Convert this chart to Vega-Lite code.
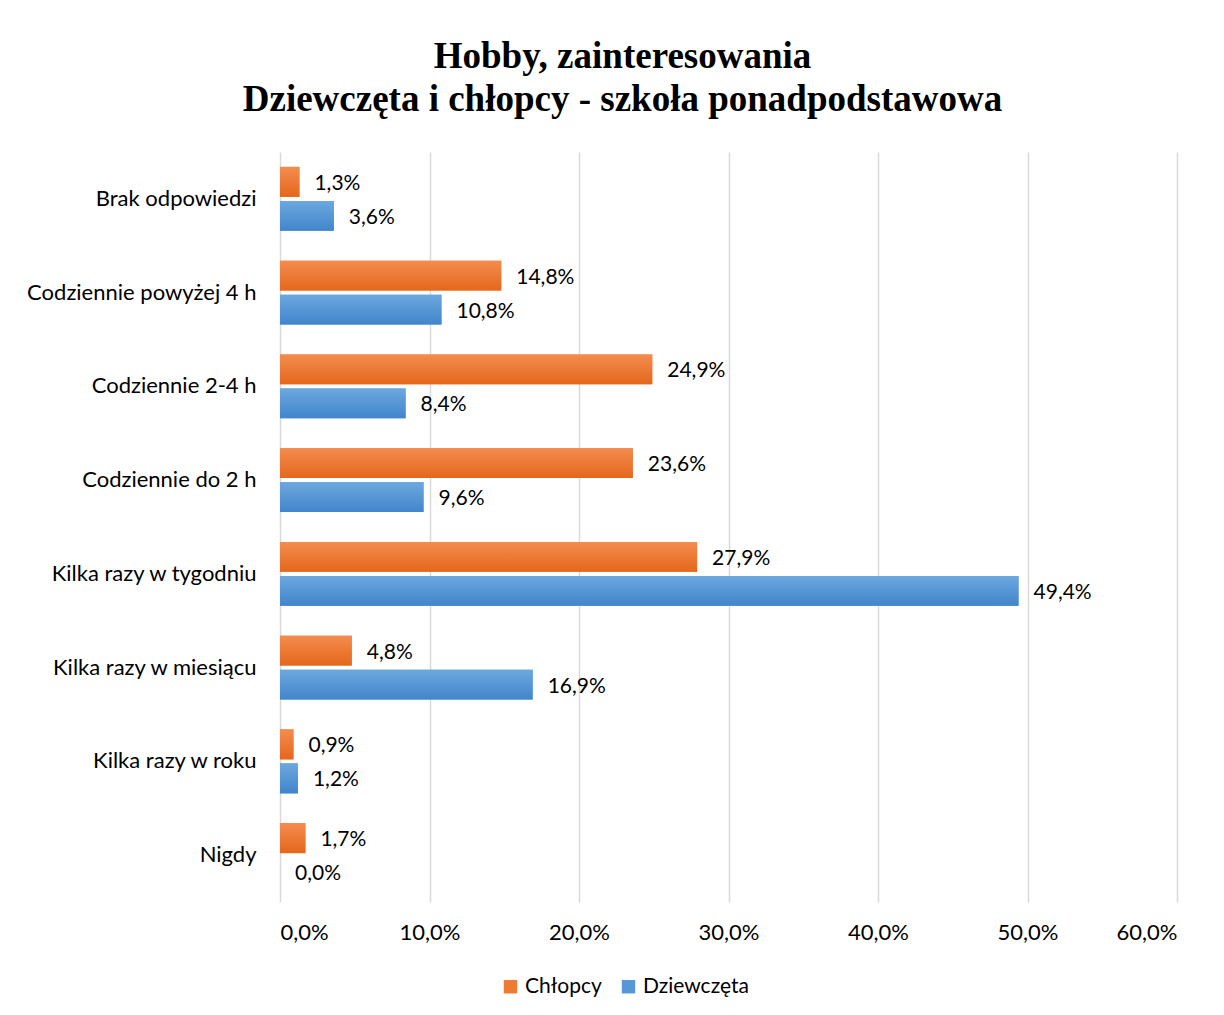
{
  "$schema": "https://vega.github.io/schema/vega-lite/v6.json",
  "width": 897,
  "height": 750,
  "autosize": {"type": "none"},
  "padding": {"left": 280, "top": 152, "right": 47, "bottom": 113},
  "background": "white",
  "config": {
    "locale": {"number": {"decimal": ",", "thousands": " ", "grouping": [3], "currency": ["", " zł"]}},
    "view": {"stroke": null},
    "font": "Lato"
  },
  "title": {
    "text": ["Hobby, zainteresowania", "Dziewczęta i chłopcy - szkoła ponadpodstawowa"],
    "font": "Liberation Serif",
    "fontSize": 37,
    "fontWeight": "bold",
    "color": "#000000",
    "lineHeight": 43,
    "anchor": "middle",
    "dx": -106,
    "offset": 33
  },
  "data": {
    "values": [
      {"kategoria": "Brak odpowiedzi", "grupa": "Chłopcy", "wartosc": 0.013},
      {"kategoria": "Brak odpowiedzi", "grupa": "Dziewczęta", "wartosc": 0.036},
      {"kategoria": "Codziennie powyżej 4 h", "grupa": "Chłopcy", "wartosc": 0.148},
      {"kategoria": "Codziennie powyżej 4 h", "grupa": "Dziewczęta", "wartosc": 0.108},
      {"kategoria": "Codziennie 2-4 h", "grupa": "Chłopcy", "wartosc": 0.249},
      {"kategoria": "Codziennie 2-4 h", "grupa": "Dziewczęta", "wartosc": 0.084},
      {"kategoria": "Codziennie do 2 h", "grupa": "Chłopcy", "wartosc": 0.236},
      {"kategoria": "Codziennie do 2 h", "grupa": "Dziewczęta", "wartosc": 0.096},
      {"kategoria": "Kilka razy w tygodniu", "grupa": "Chłopcy", "wartosc": 0.279},
      {"kategoria": "Kilka razy w tygodniu", "grupa": "Dziewczęta", "wartosc": 0.494},
      {"kategoria": "Kilka razy w miesiącu", "grupa": "Chłopcy", "wartosc": 0.048},
      {"kategoria": "Kilka razy w miesiącu", "grupa": "Dziewczęta", "wartosc": 0.169},
      {"kategoria": "Kilka razy w roku", "grupa": "Chłopcy", "wartosc": 0.009},
      {"kategoria": "Kilka razy w roku", "grupa": "Dziewczęta", "wartosc": 0.012},
      {"kategoria": "Nigdy", "grupa": "Chłopcy", "wartosc": 0.017},
      {"kategoria": "Nigdy", "grupa": "Dziewczęta", "wartosc": 0.0}
    ]
  },
  "encoding": {
    "y": {
      "field": "kategoria",
      "type": "nominal",
      "sort": null,
      "scale": {"paddingInner": 0, "paddingOuter": 0},
      "axis": {
        "title": null,
        "domain": false,
        "ticks": false,
        "labelFontSize": 22,
        "labelColor": "#000000",
        "labelPadding": 24,
        "labelLimit": 400
      }
    },
    "yOffset": {
      "field": "grupa",
      "type": "nominal",
      "sort": ["Chłopcy", "Dziewczęta"],
      "scale": {"domain": ["Chłopcy", "Dziewczęta"], "paddingInner": 0.118, "paddingOuter": 0.4375}
    },
    "x": {
      "field": "wartosc",
      "type": "quantitative",
      "scale": {"domain": [0, 0.6], "nice": false},
      "axis": {
        "title": null,
        "format": ".1%",
        "values": [0, 0.1, 0.2, 0.3, 0.4, 0.5, 0.6],
        "domain": false,
        "ticks": false,
        "grid": true,
        "gridColor": "#d9d9d9",
        "gridWidth": 1.5,
        "labelFontSize": 22,
        "labelColor": "#000000",
        "labelPadding": 20
      }
    }
  },
  "layer": [
    {
      "mark": {"type": "bar"},
      "encoding": {
        "color": {
          "field": "grupa",
          "type": "nominal",
          "sort": ["Chłopcy", "Dziewczęta"],
          "scale": {"domain": ["Chłopcy", "Dziewczęta"], "range": ["#EE7B33", "#5797D6"]},
          "legend": {
            "title": null,
            "orient": "none",
            "legendX": 220,
            "legendY": 824,
            "direction": "horizontal",
            "symbolType": "square",
            "symbolSize": 180,
            "symbolStrokeWidth": 0,
            "labelFontSize": 21,
            "labelColor": "#000000",
            "columnPadding": 16,
            "labelOffset": 4
          }
        }
      }
    },
    {
      "transform": [{"filter": "datum.grupa === 'Chłopcy'"}],
      "mark": {
        "type": "bar",
        "color": {"gradient": "linear", "x1": 0, "y1": 0, "x2": 0, "y2": 1, "stops": [{"offset": 0, "color": "#F48C4F"}, {"offset": 1, "color": "#E4671C"}]}
      },
      "encoding": {}
    },
    {
      "transform": [{"filter": "datum.grupa === 'Dziewczęta'"}],
      "mark": {
        "type": "bar",
        "color": {"gradient": "linear", "x1": 0, "y1": 0, "x2": 0, "y2": 1, "stops": [{"offset": 0, "color": "#6DA8DF"}, {"offset": 1, "color": "#4185CB"}]}
      },
      "encoding": {}
    },
    {
      "mark": {"type": "text", "align": "left", "baseline": "middle", "dx": 15, "dy": 2, "fontSize": 21, "color": "#000000"},
      "encoding": {
        "text": {"field": "wartosc", "type": "quantitative", "format": ".1%"}
      }
    }
  ]
}
